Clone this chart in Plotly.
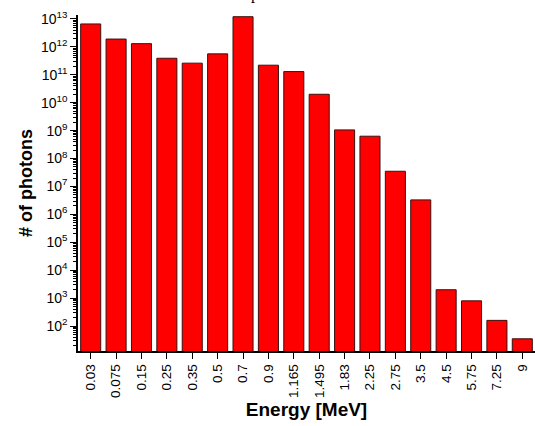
import plotly.graph_objects as go

energies = ["0.03", "0.075", "0.15", "0.25", "0.35", "0.5", "0.7", "0.9", "1.165",
            "1.495", "1.83", "2.25", "2.75", "3.5", "4.5", "5.75", "7.25", "9"]
photons = [6.6e12, 1.9e12, 1.3e12, 3.9e11, 2.6e11, 5.6e11, 1.2e13, 2.2e11, 1.3e11,
           2.0e10, 1.06e9, 6.3e8, 3.5e7, 3.3e6, 2.0e3, 8.0e2, 1.6e2, 35]

exps = list(range(2, 14))
ytickvals = [10 ** e for e in exps]
yticktext = ["10<sup>%d</sup>" % e for e in exps]
minorvals = [m * 10 ** e for e in range(1, 14) for m in range(2, 10)]

fig = go.Figure(go.Bar(
    x=energies, y=photons,
    marker=dict(color="#ff0000", line=dict(color="#3a1010", width=1)),
))

font = dict(family="Liberation Sans, Arial, sans-serif", color="black")

fig.update_layout(
    width=535, height=426,
    margin=dict(l=78, r=0, t=15, b=75, autoexpand=False),
    paper_bgcolor="white", plot_bgcolor="white",
    bargap=0.21, showlegend=False,
    font=font,
    annotations=[dict(text="p", x=0.387, y=1.03, xref="paper", yref="paper",
                      xanchor="center", yanchor="bottom", showarrow=False,
                      font=dict(family="Liberation Serif, Times New Roman, serif", size=16))],
)

fig.update_xaxes(
    type="category", range=[-0.5, 17.5], automargin=False,
    showline=True, linecolor="black", linewidth=1.5,
    ticks="outside", ticklen=6, tickwidth=1.2, tickcolor="black",
    tickangle=-90, tickfont=dict(size=13.5, **font),
    title=dict(text="<b>Energy [MeV]</b>", font=dict(size=19, **font), standoff=6),
    showgrid=False, mirror=False,
)

fig.update_yaxes(
    type="log", range=[1.107, 13.14], automargin=False,
    showline=True, linecolor="black", linewidth=1.5,
    tickmode="array", tickvals=ytickvals, ticktext=yticktext,
    ticks="outside", ticklen=6, tickwidth=1.2, tickcolor="black",
    tickfont=dict(size=14, **font),
    minor=dict(tickmode="array", tickvals=minorvals, ticks="outside", ticklen=3,
               tickwidth=1, tickcolor="black", showgrid=False),
    title=dict(text="<b># of photons</b>", font=dict(size=18, **font), standoff=4),
    showgrid=False, zeroline=False,
)

fig.write_html("out.html", config={"displayModeBar": False},
               post_script="document.body.style.margin='0';document.body.style.overflow='hidden';")
